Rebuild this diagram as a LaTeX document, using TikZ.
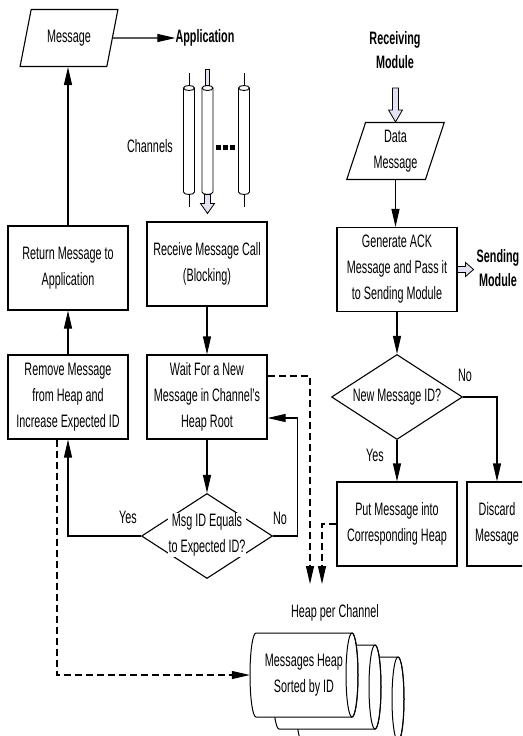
\documentclass[tikz,border=0pt]{standalone}
\usepackage{fontspec}
\setmainfont{Liberation Sans}[FakeStretch=0.6]
\usetikzlibrary{calc,positioning,shapes.geometric,arrows.meta}
\definecolor{hollowfill}{HTML}{E2E2F2}
\tikzstyle{proc} = [
    draw,
    rectangle,
    line width=1.1pt,
    minimum width=120pt,
    minimum height=84pt,
    align=center,
    inner sep=2pt
    ]
\tikzstyle{decision} = [
    draw,
    diamond,
    line width=1.1pt,
    minimum width=131pt,
    minimum height=85pt,
    inner sep=0pt
    ]
\tikzstyle{io} = [
    draw,
    trapezium,
    trapezium left angle=72,
    trapezium right angle=108,
    trapezium stretches=true,
    line width=1.1pt,
    minimum width=98pt,
    minimum height=57pt,
    align=center
    ]
\tikzstyle{lbl} = [align=center, inner sep=1pt]
\tikzstyle{bigl} = [align=center, inner sep=0pt, font=\bfseries\fontsize{18}{24}\selectfont]
\tikzstyle{flow} = [line width=1.1pt, -{Triangle[length=18pt,width=8pt]}]
\tikzstyle{dflow} = [flow, dash pattern=on 7pt off 4pt]
\tikzstyle{hollowarrow} = [draw, line width=0.8pt, fill=hollowfill, line join=miter]
% block arrows: start, shaft length, head length
\newcommand{\hollowdown}[3]{%
\draw[hollowarrow] (#1) ++(-3,0) -- ++(0,#2) -- ++(-4,0) -- ++(7,#3) -- ++(7,-#3) -- ++(-4,0) -- ++(0,-#2) -- cycle;}
\newcommand{\hollowright}[3]{%
\draw[hollowarrow] (#1) ++(0,-3) -- ++(#2,0) -- ++(0,-4) -- ++(#3,7) -- ++(-#3,7) -- ++(0,-4) -- ++(-#2,0) -- cycle;}
% one heap cylinder, lying on its side
\newcommand{\heapcyl}[2]{%
\filldraw[fill=white, line width=1pt] (#1-48,#2-42) -- (#1+48,#2-42) arc[start angle=270,end angle=450,x radius=6,y radius=42] -- (#1-48,#2+42) arc[start angle=90,end angle=270,x radius=6,y radius=42] -- cycle;
\draw[line width=1pt] (#1+48,#2) ellipse[x radius=6,y radius=42];}
\begin{document}
\begin{tikzpicture}[x=1pt, y=-1pt, every node/.style={font=\fontsize{18}{26}\selectfont}]
\useasboundingbox (0,0) rectangle (522,736);
\fill[white] (0,0) rectangle (522,736);
\clip (0,0) rectangle (522,736);

% left part
\node[io] (msg) at (69,38) {Message};
\node[bigl] (app) at (205,38) {Application};
\node[proc] (ret) at (68,268) {Return Message to\\Application};
\node[proc] (remove) at (68,397) {Remove Message\\from Heap and\\Increase Expected ID};
\node[proc] (recv) at (207,264) {Receive Message Call\\(Blocking)};
\node[proc] (wait) at (207,397) {Wait For a New\\Message in Channel's\\Heap Root};
\node[decision] (chk) at (207,536) {};
\node[lbl, fill=white] (chktext) at (207,535) {Msg ID Equals\\to Expected ID?};
\node[lbl] (chlabel) at (150,146) {Channels};

% channels
\foreach \x in {189,207.5,244}{
    \draw[line width=0.9pt] (\x-5.5,88) -- (\x-5.5,192) arc[start angle=180,end angle=0,x radius=5.5,y radius=2.5] -- (\x+5.5,88);
    \draw[line width=0.9pt] (\x,88) ellipse[x radius=5.5,y radius=2.5];
}
\foreach \x in {189,244}{
    \draw[line width=0.8pt] (\x,73) -- (\x,85.5);
    \draw[line width=0.8pt] (\x,194.5) -- (\x,207);
}
\draw[hollowarrow] (205.5,69) rectangle (209.5,85.5);
\foreach \d in {218.5,225.5,232.5}
    \fill (\d-2.5,144.5) rectangle (\d+2.5,149.5);
\coordinate (chb) at (207.5,194.5);
\hollowdown{chb}{9}{10}

% right part
\node[bigl] (rcvmod) at (395,50) {Receiving\\Module};
\node[io] (dmsg) at (395.5,151) {Data\\Message};
\node[proc] (gen) at (397,269.5) {Generate ACK\\Message and Pass it\\to Sending Module};
\node[bigl] (sendmod) at (498,268.5) {Sending\\Module};
\node[decision] (newid) at (397,397) {};
\node[lbl] (newidtext) at (397,397) {New Message ID?};
\node[proc] (put) at (397,524) {Put Message into\\Corresponding Heap};
\node[proc, minimum width=60pt] (disc) at (497,524) {Discard\\Message};

% heaps
\node[lbl] (heaplbl) at (335,613) {Heap per Channel};
\heapcyl{350}{699}
\heapcyl{327}{687}
\heapcyl{304}{675}
\node[lbl, minimum width=108pt, minimum height=84pt] (heap) at (304,675) {Messages Heap\\Sorted by ID};
\coordinate (in1) at (310,584);
\coordinate (in2) at (322,584);

% connectors
\draw[flow] (msg.east) -- (app.west);
\draw[flow] (ret.north) -- (ret.north |- msg.south);
\draw[flow] (remove.north) -- (ret.south);
\draw[flow] (recv.south) -- (wait.north);
\draw[flow] (wait.south) -- (chk.north);
\draw[flow] (chk.west) -| (remove.south);
\draw[flow] (chk.east) -- ++(24,0) |- ($(wait.east)+(0,21)$);
\node[lbl] at (128,517) {Yes};
\node[lbl] at (280,518) {No};
\draw[dflow] ($(wait.east)+(0,-21)$) -| (in1);
\draw[dflow] (put.west) -| (in2);
\draw[dflow] ($(remove.south)+(-11,0)$) |- (heap.west);

\hollowdown{$(dmsg.north)+(0,-34)$}{22}{12}
\draw[flow] (dmsg.south) -- (dmsg.south |- gen.north);
\hollowright{gen.east}{8}{8}
\draw[flow] (gen.south) -- (newid.north);
\draw[flow] (newid.south) -- (put.north);
\draw[flow] (newid.east) -| (disc.north);
\node[lbl] at (375,455) {Yes};
\node[lbl] at (465,375) {No};
\end{tikzpicture}
\end{document}
